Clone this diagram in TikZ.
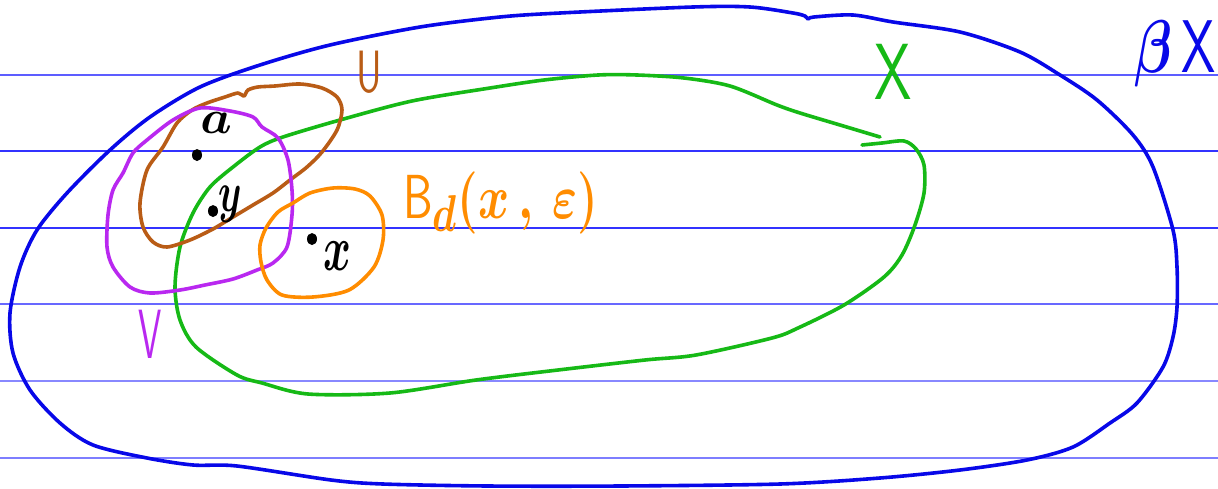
\documentclass[tikz,border=0pt]{standalone}
\usetikzlibrary{shapes.geometric}
\definecolor{bigblue}{RGB}{8,8,232}
\definecolor{ruleblue}{RGB}{40,40,255}
\definecolor{xgreen}{RGB}{22,185,22}
\definecolor{ubrown}{RGB}{185,92,22}
\definecolor{vpurple}{RGB}{185,40,240}
\definecolor{borange}{RGB}{255,140,0}
\begin{document}
\begin{tikzpicture}[x=1pt,y=-1pt,line cap=round,line join=round,
  ruled/.style={ruleblue,line width=1.4pt},
  curve/.style={line width=3.6pt},
  lbl/.style={inner sep=0pt,font=\Huge\boldmath},
  caplbl/.style={inner sep=0pt,font=\Huge\boldmath\sffamily},
  dot/.style={ellipse,fill=black,inner sep=0pt,minimum width=10pt,minimum height=12pt}]
\useasboundingbox (0,0) rectangle (1218,488);
\fill[white] (0,0) rectangle (1218,488);
% ruled lines
\draw[ruled,opacity=.75] (0,75) -- (1218,75);
\draw[ruled,opacity=.95] (0,151) -- (1218,151);
\draw[ruled,opacity=.95] (0,228) -- (1218,228);
\draw[ruled,opacity=.7] (0,304) -- (1218,304);
\draw[ruled,opacity=.55] (0,381) -- (1218,381);
\draw[ruled,opacity=.6] (0,458) -- (1218,458);
% beta X
\draw[curve,bigblue] plot[smooth cycle,tension=0.5] coordinates {
 (10,313) (20,267) (37,230) (67,193) (110,150) (150,117) (200,87) (260,65)
 (330,45) (420,27) (500,17) (560,13) (693,7) (750,7) (793,13) (805,16)
 (808,19) (814,17) (853,15) (893,22) (960,32) (1020,52) (1060,75) (1097,100)
 (1133,135) (1153,167) (1173,230) (1177,267) (1177,307) (1173,337) (1163,367)
 (1137,403) (1110,423) (1073,447) (1027,460) (960,470) (880,478) (780,484)
 (620,486) (488,486) (383,484) (331,480) (237,466) (193,465) (147,458)
 (93,445) (60,423) (30,390) (13,353)};
% X
\draw[curve,xgreen] plot[smooth,tension=0.5] coordinates {
 (880,137) (840,125) (800,113) (777,105) (730,86) (684,78) (637,75) (598,75)
 (544,80) (490,88) (412,101) (340,120) (283,137) (260,147) (233,167) (210,187)
 (193,213) (180,247) (175,287) (180,320) (196,347) (237,375) (262,383) (308,394)
 (390,393) (476,380) (558,370) (645,360) (696,355) (772,338) (798,328) (844,305)
 (884,277) (902,255) (915,225) (924,193) (924,165) (916,149) (904,141) (882,143) (862,145)};
% U
\draw[curve,ubrown] plot[smooth cycle,tension=0.5] coordinates {
 (248,90) (258,87) (275,86) (300,84) (322,88) (337,97) (342,110) (337,130)
 (322,152) (307,167) (290,180) (273,193) (253,205) (233,217) (213,229) (190,240)
 (167,247) (153,242) (143,227) (140,203) (147,170) (163,147) (177,123) (192,110)
 (207,103) (225,97) (238,93) (244,96)};
% V
\draw[curve,vpurple] plot[smooth cycle,tension=0.5] coordinates {
 (200,108) (230,111) (253,117) (262,127) (278,138) (288,160) (292,190) (292,215)
 (287,247) (273,263) (257,270) (233,279) (205,285) (180,290) (150,293) (130,287)
 (113,267) (107,247) (108,215) (113,190) (123,173) (133,153) (147,140) (173,120)};
% ball
\draw[curve,borange] plot[smooth cycle,tension=0.5] coordinates {
 (293,203) (310,193) (333,188) (355,189) (370,196) (382,215) (383,240) (374,267)
 (349,290) (313,297) (282,295) (267,280) (261,262) (260,245) (266,228) (278,212)};
% points
\node[dot] (pa) at (197,155) {};
\node[dot] (py) at (213,211) {};
\node[dot] (px) at (312,239) {};
% labels
\node[lbl,xscale=2.0,yscale=1.9] (la) at (216,123) {$a$};
\node[lbl,xscale=1.5,yscale=2.3] (ly) at (230,204) {$y$};
\node[lbl,xscale=1.7,yscale=2.6] (lx) at (337,256) {$x$};
\node[caplbl,text=ubrown,xscale=1.6,yscale=2.4] (lU) at (369,72) {U};
\node[caplbl,text=vpurple,xscale=1.5,yscale=2.8] (lV) at (150,334) {V};
\node[caplbl,text=xgreen,xscale=2.4,yscale=3.2] (lX) at (893,72) {X};
\node[caplbl,text=bigblue,xscale=2.2,yscale=3,anchor=base] (lbX) at (1175,72) {$\beta$\,X};
\node[caplbl,text=borange,xscale=1.9,yscale=2.5,anchor=base west] (lB) at (403,218)
  {B$_d\bigl(x\,,\,\varepsilon\bigr)$};
\end{tikzpicture}
\end{document}
